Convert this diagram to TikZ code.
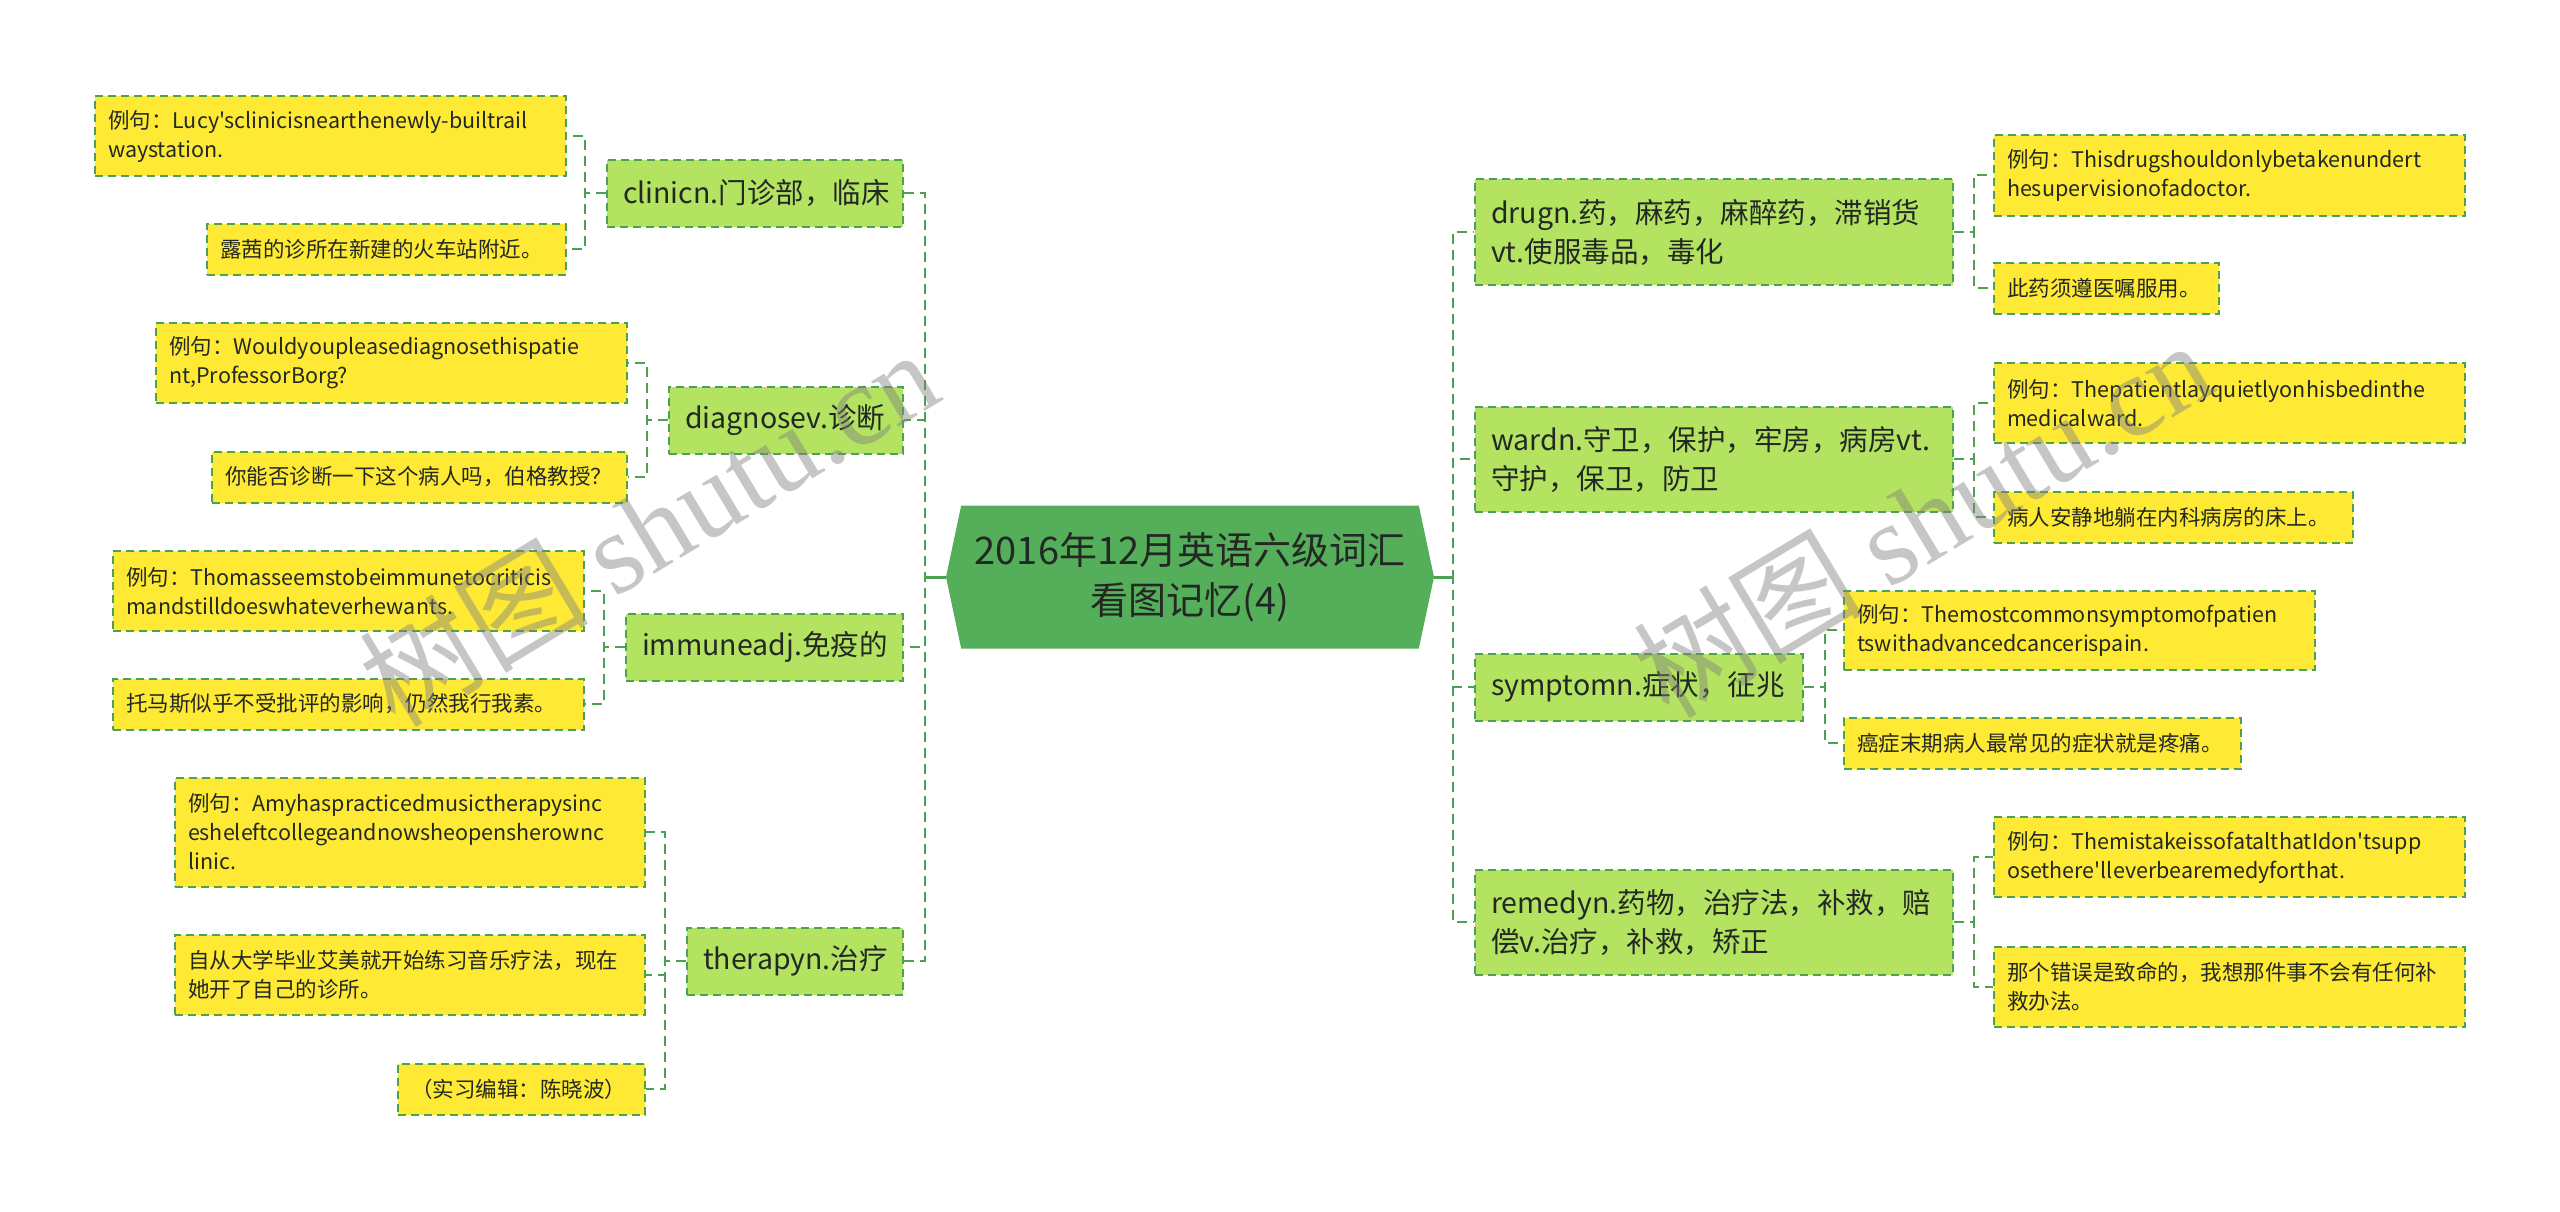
\documentclass[tikz,border=0pt]{standalone}
\usepackage{fontspec}
\setmainfont{Noto Sans CJK SC}[Ligatures=TeXOff]
\newfontfamily\markfont{Liberation Serif}
\usetikzlibrary{shapes.symbols}
\hyphenpenalty=10000
\exhyphenpenalty=10000
\definecolor{rootgreen}{RGB}{84,174,90}
\definecolor{topicgreen}{RGB}{179,227,96}
\definecolor{noteyellow}{RGB}{254,234,52}
\definecolor{linegreen}{RGB}{76,162,82}
\definecolor{textdark}{RGB}{36,40,36}

\begin{document}
\begin{tikzpicture}[
x=1pt, y=-1pt,
root/.style={signal, signal to=east and west, signal pointer angle=156, fill=rootgreen, text=textdark, align=center, minimum width=488pt, minimum height=143pt, inner sep=0pt, font=\fontsize{38pt}{50pt}\selectfont},
topic/.style={draw=linegreen, fill=topicgreen, line width=2pt, dash pattern=on 8pt off 5pt, text=textdark, align=left, inner xsep=16pt, inner ysep=4pt, minimum height=67pt, font=\fontsize{28.5pt}{39pt}\selectfont},
note/.style={draw=linegreen, fill=noteyellow, line width=2pt, dash pattern=on 8pt off 5pt, text=textdark, align=left, inner xsep=13pt, inner ysep=3pt, minimum height=51pt, font=\fontsize{21.5pt}{29pt}\selectfont},
link/.style={draw=linegreen, line width=2.5pt, dash pattern=on 10pt off 6pt},
stub/.style={draw=linegreen, line width=3pt},
wmark/.style={text=gray, opacity=0.45, rotate=31, font=\fontsize{115pt}{115pt}\selectfont} ]

\useasboundingbox (0,0) rectangle (2560,1211);

\node[root] (root) at (1190,577) {2016年12月英语六级词汇\\看图记忆(4)};

\node[topic, anchor=east, minimum width=296pt, text width=264pt] (clinic) at (904,193) {clinicn.门诊部，临床};

\node[topic, anchor=east, minimum width=234pt, text width=202pt] (diagnose) at (904,420) {diagnosev.诊断};

\node[topic, anchor=east, minimum width=277pt, text width=245pt] (immune) at (904,647) {immuneadj.免疫的};

\node[topic, anchor=east, minimum width=216pt, text width=184pt] (therapy) at (904,961) {therapyn.治疗};

\node[topic, anchor=west, minimum width=478pt, text width=446pt, minimum height=106pt] (drug) at (1474,232) {drugn.药，麻药，麻醉药，滞销货\\vt.使服毒品，毒化};

\node[topic, anchor=west, minimum width=478pt, text width=446pt, minimum height=105pt] (ward) at (1474,459) {wardn.守卫，保护，牢房，病房vt.\\守护，保卫，防卫};

\node[topic, anchor=west, minimum width=328pt, text width=296pt] (symptom) at (1474,687) {symptomn.症状，征兆};

\node[topic, anchor=west, minimum width=478pt, text width=446pt, minimum height=105pt] (remedy) at (1474,922) {remedyn.药物，治疗法，补救，赔\\偿v.治疗，补救，矫正};

\node[note, anchor=east, minimum width=471pt, text width=445pt, minimum height=80pt] (clinicA) at (567,136) {例句：Lucy'sclinicisnearthenewly-builtrail\\waystation.};

\node[note, anchor=east, minimum width=359pt, text width=333pt] (clinicB) at (567,249) {露茜的诊所在新建的火车站附近。};

\node[note, anchor=east, minimum width=471pt, text width=445pt, minimum height=80pt] (diagnoseA) at (628,363) {例句：Wouldyoupleasediagnosethispatie\\nt,ProfessorBorg?};

\node[note, anchor=east, minimum width=415pt, text width=389pt] (diagnoseB) at (628,477) {你能否诊断一下这个病人吗，伯格教授？};

\node[note, anchor=east, minimum width=471pt, text width=445pt, minimum height=80pt] (immuneA) at (585,591) {例句：Thomasseemstobeimmunetocriticis\\mandstilldoeswhateverhewants.};

\node[note, anchor=east, minimum width=471pt, text width=445pt] (immuneB) at (585,704) {托马斯似乎不受批评的影响，仍然我行我素。};

\node[note, anchor=east, minimum width=470pt, text width=444pt, minimum height=109pt] (therapyA) at (646,832) {例句：Amyhaspracticedmusictherapysinc\\esheleftcollegeandnowsheopensherownc\\linic.};

\node[note, anchor=east, minimum width=470pt, text width=444pt, minimum height=80pt] (therapyB) at (646,975) {自从大学毕业艾美就开始练习音乐疗法，现在\\她开了自己的诊所。};

\node[note, anchor=east, minimum width=247pt, text width=221pt] (therapyC) at (646,1089) {（实习编辑：陈晓波）};

\node[note, anchor=west, minimum width=471pt, text width=445pt, minimum height=81pt] (drugA) at (1993,175) {例句：Thisdrugshouldonlybetakenundert\\hesupervisionofadoctor.};

\node[note, anchor=west, minimum width=225pt, text width=199pt] (drugB) at (1993,288) {此药须遵医嘱服用。};

\node[note, anchor=west, minimum width=471pt, text width=445pt, minimum height=80pt] (wardA) at (1993,403) {例句：Thepatientlayquietlyonhisbedinthe\\medicalward.};

\node[note, anchor=west, minimum width=359pt, text width=333pt] (wardB) at (1993,517) {病人安静地躺在内科病房的床上。};

\node[note, anchor=west, minimum width=471pt, text width=445pt, minimum height=79pt] (symptomA) at (1843,630) {例句：Themostcommonsymptomofpatien\\tswithadvancedcancerispain.};

\node[note, anchor=west, minimum width=397pt, text width=371pt] (symptomB) at (1843,743) {癌症末期病人最常见的症状就是疼痛。};

\node[note, anchor=west, minimum width=471pt, text width=445pt, minimum height=80pt] (remedyA) at (1993,857) {例句：ThemistakeissofatalthatIdon'tsupp\\osethere'lleverbearemedyforthat.};

\node[note, anchor=west, minimum width=471pt, text width=445pt, minimum height=80pt] (remedyB) at (1993,987) {那个错误是致命的，我想那件事不会有任何补\\救办法。};

\draw[link] (root.west) -- ++(-21,0) |- (clinic.east);

\draw[link] (root.west) -- ++(-21,0) |- (diagnose.east);

\draw[link] (root.west) -- ++(-21,0) |- (immune.east);

\draw[link] (root.west) -- ++(-21,0) |- (therapy.east);

\draw[link] (root.east) -- ++(19,0) |- (drug.west);

\draw[link] (root.east) -- ++(19,0) |- (ward.west);

\draw[link] (root.east) -- ++(19,0) |- (symptom.west);

\draw[link] (root.east) -- ++(19,0) |- (remedy.west);

\draw[stub] (root.west) -- ++(-21,0);

\draw[stub] (root.east) -- ++(19,0);

\draw[link] (clinic.west) -- ++(-21,0) |- (clinicA.east);

\draw[link] (clinic.west) -- ++(-21,0) |- (clinicB.east);

\draw[link] (diagnose.west) -- ++(-21,0) |- (diagnoseA.east);

\draw[link] (diagnose.west) -- ++(-21,0) |- (diagnoseB.east);

\draw[link] (immune.west) -- ++(-21,0) |- (immuneA.east);

\draw[link] (immune.west) -- ++(-21,0) |- (immuneB.east);

\draw[link] (therapy.west) -- ++(-21,0) |- (therapyA.east);

\draw[link] (therapy.west) -- ++(-21,0) |- (therapyB.east);

\draw[link] (therapy.west) -- ++(-21,0) |- (therapyC.east);

\draw[link] (drug.east) -- ++(20,0) |- (drugA.west);

\draw[link] (drug.east) -- ++(20,0) |- (drugB.west);

\draw[link] (ward.east) -- ++(20,0) |- (wardA.west);

\draw[link] (ward.east) -- ++(20,0) |- (wardB.west);

\draw[link] (symptom.east) -- ++(21,0) |- (symptomA.west);

\draw[link] (symptom.east) -- ++(21,0) |- (symptomB.west);

\draw[link] (remedy.east) -- ++(20,0) |- (remedyA.west);

\draw[link] (remedy.east) -- ++(20,0) |- (remedyB.west);

\node[wmark] (markL) at (648,527) {树图 {\markfont shutu.cn}};

\node[wmark] (markR) at (1922,518) {树图 {\markfont shutu.cn}};

\end{tikzpicture}
\end{document}
